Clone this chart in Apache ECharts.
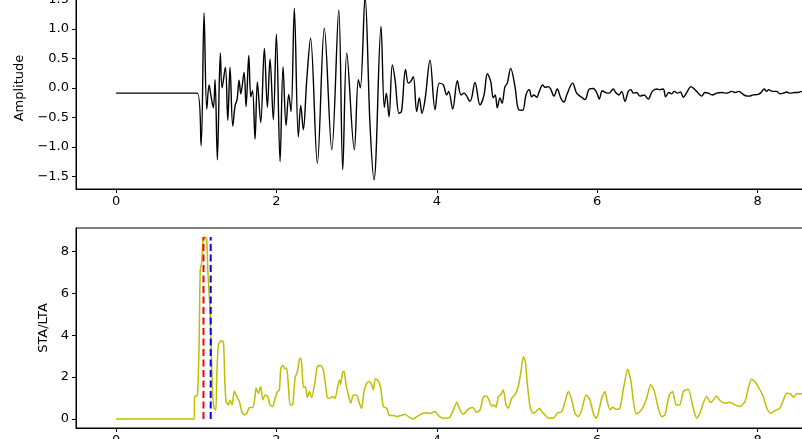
<!DOCTYPE html>
<html><head><meta charset="utf-8">
<script src="https://cdn.jsdelivr.net/npm/echarts@6/dist/echarts.min.js"></script>
<style>html,body{margin:0;padding:0;overflow:hidden;width:802px;height:439px;background:#fff}
#c{position:absolute;left:0;top:-20px;width:1000px;height:480px}</style></head>
<body><div id="c"></div>
<script>
// Waveform (time in s, amplitude)
const waveT = [0,1.014,1.060,1.097,1.131,1.160,1.185,1.213,1.234,1.263,1.300,1.322,1.363,1.393,1.421,1.455,1.484,1.509,1.534,1.555,1.596,1.621,1.655,1.680,1.702,1.733,1.762,1.804,1.849,1.887,1.920,1.961,1.999,2.045,2.082,2.120,2.153,2.182,2.223,2.273,2.303,2.335,2.378,2.425,2.510,2.597,2.690,2.777,2.827,2.877,2.971,3.021,3.046,3.105,3.167,3.217,3.304,3.345,3.370,3.404,3.445,3.479,3.529,3.560,3.610,3.645,3.675,3.707,3.749,3.782,3.815,3.853,3.915,3.978,4.031,4.081,4.123,4.148,4.198,4.256,4.302,4.339,4.414,4.476,4.539,4.589,4.630,4.672,4.704,4.729,4.754,4.788,4.813,4.850,4.879,4.921,4.975,5.021,5.071,5.112,5.153,5.183,5.212,5.246,5.278,5.320,5.349,5.390,5.420,5.461,5.502,5.545,5.586,5.620,5.694,5.744,5.807,5.848,5.902,5.951,5.994,6.026,6.064,6.106,6.147,6.201,6.231,6.272,6.306,6.347,6.388,6.421,6.450,6.492,6.534,6.587,6.637,6.687,6.742,6.783,6.824,6.854,6.895,6.929,6.961,7.004,7.039,7.074,7.116,7.170,7.211,7.261,7.303,7.344,7.385,7.435,7.490,7.552,7.615,7.677,7.722,7.768,7.802,7.843,7.893,7.946,8.009,8.042,8.083,8.113,8.142,8.183,8.238,8.279,8.320,8.363,8.404,8.466,8.507,8.550,8.603];
const waveA = [-0.09,-0.09,-0.98,1.27,-0.36,0.05,-0.15,-0.34,0.14,-1.22,0.59,0.0,0.35,-0.55,0.35,-0.65,-0.30,-0.20,0.13,-0.10,0.26,-0.32,0.55,-0.15,-0.05,-0.87,0.10,-0.59,0.67,-0.33,0.49,-0.54,0.91,-1.25,0.36,-0.64,-0.11,-0.40,1.35,-0.83,-0.30,-0.71,0.14,0.84,-1.28,1.01,-1.05,1.32,-1.39,0.59,-1.05,0.14,0.0,1.55,-0.63,-1.56,1.04,-0.33,-0.09,-0.49,0.39,0.14,-0.43,-0.40,0.31,0.08,0.11,0.19,-0.40,-0.17,-0.43,-0.20,0.47,-0.37,0.08,0.05,-0.12,-0.06,-0.36,0.12,-0.12,-0.09,-0.23,0.09,-0.29,-0.12,0.24,0.11,-0.17,-0.12,-0.34,-0.17,-0.26,0.02,0.08,0.33,0.02,-0.37,-0.38,-0.12,-0.03,-0.15,-0.12,-0.16,-0.06,0.05,0.01,0.02,-0.02,-0.14,-0.02,-0.17,-0.24,-0.12,0.08,-0.09,-0.16,-0.20,-0.02,-0.01,-0.08,-0.19,-0.05,-0.08,-0.09,-0.02,-0.08,-0.12,-0.06,-0.23,-0.06,-0.03,-0.09,-0.08,-0.14,-0.12,-0.19,-0.06,-0.02,-0.03,-0.02,-0.15,-0.08,-0.10,-0.06,-0.09,-0.07,-0.16,-0.08,0.02,-0.02,-0.09,-0.14,-0.08,-0.09,-0.12,-0.09,-0.08,-0.09,-0.06,-0.08,-0.06,-0.09,-0.13,-0.14,-0.12,-0.11,-0.08,-0.02,-0.06,-0.03,-0.06,-0.06,-0.10,-0.09,-0.07,-0.09,-0.08,-0.08,-0.06,-0.08];
// STA/LTA characteristic function
const cftT = [0,0.973,0.981,1.014,1.035,1.049,1.068,1.085,1.110,1.130,1.145,1.172,1.190,1.207,1.222,1.244,1.256,1.276,1.306,1.339,1.356,1.372,1.400,1.421,1.446,1.475,1.505,1.538,1.567,1.596,1.630,1.662,1.704,1.733,1.746,1.774,1.804,1.829,1.858,1.891,1.920,1.953,1.983,2.012,2.037,2.054,2.079,2.107,2.128,2.145,2.170,2.203,2.232,2.261,2.286,2.303,2.319,2.336,2.361,2.386,2.411,2.440,2.481,2.510,2.552,2.585,2.606,2.635,2.668,2.702,2.731,2.760,2.785,2.802,2.827,2.843,2.868,2.897,2.926,2.959,3.001,3.034,3.063,3.092,3.126,3.155,3.188,3.208,3.233,3.271,3.300,3.333,3.375,3.408,3.466,3.500,3.550,3.603,3.645,3.707,3.749,3.799,3.853,3.915,3.978,4.019,4.081,4.156,4.206,4.248,4.289,4.331,4.380,4.448,4.498,4.539,4.580,4.622,4.685,4.713,4.738,4.767,4.797,4.829,4.863,4.891,4.934,4.975,5.016,5.046,5.079,5.104,5.128,5.162,5.196,5.237,5.278,5.308,5.349,5.390,5.453,5.502,5.557,5.599,5.640,5.682,5.723,5.764,5.807,5.860,5.910,5.951,5.985,6.014,6.056,6.097,6.126,6.160,6.193,6.234,6.284,6.325,6.380,6.418,6.450,6.484,6.534,6.575,6.617,6.667,6.708,6.762,6.804,6.845,6.899,6.941,6.983,7.032,7.074,7.136,7.198,7.241,7.282,7.323,7.365,7.415,7.448,7.490,7.531,7.594,7.656,7.718,7.781,7.843,7.884,7.926,7.967,8.030,8.071,8.121,8.163,8.217,8.279,8.320,8.363,8.413,8.445,8.488,8.550,8.603];
const cftV = [0,0,1.07,1.12,3.5,7.1,7.5,8.6,8.7,8.6,7.0,5.2,2.9,1.0,0.51,0.43,2.1,3.54,3.74,3.67,1.79,0.83,0.67,0.91,0.67,1.34,1.07,0.83,0.35,0.19,0.27,0.54,0.54,1.07,1.47,1.23,1.55,0.91,1.15,1.07,0.67,0.59,0.99,1.31,1.39,2.43,2.55,2.40,2.43,1.79,0.67,0.70,1.95,2.27,2.83,2.91,2.43,1.50,1.55,1.02,1.31,1.02,1.79,2.51,2.55,2.35,1.79,1.02,0.99,1.07,0.99,1.47,1.87,1.66,2.27,2.27,1.63,1.15,0.75,1.15,1.15,0.75,0.51,1.31,1.71,1.79,1.63,1.39,1.92,1.82,1.47,0.59,0.51,0.16,0.16,0.11,0.16,0.22,0.11,0.0,0.11,0.22,0.30,0.26,0.35,0.16,0.03,0.06,0.43,0.80,0.43,0.22,0.43,0.54,0.32,0.43,1.04,1.10,0.62,0.67,0.56,1.07,1.15,1.39,0.67,0.51,0.99,1.15,1.55,2.19,2.98,2.75,1.71,0.59,0.27,0.35,0.51,0.35,0.19,0.03,0.03,0.27,0.35,0.83,1.31,0.91,0.27,0.11,0.43,1.15,0.91,0.27,0.03,0.27,0.99,1.31,0.83,0.43,0.56,0.46,0.51,1.39,2.38,1.87,0.91,0.24,0.35,0.59,0.99,1.63,1.39,0.51,0.11,0.19,1.15,1.31,0.67,0.67,1.31,1.42,0.51,0.03,0.27,0.75,1.07,0.78,0.91,1.10,0.88,0.75,0.80,0.67,0.59,0.83,1.47,1.90,1.79,1.39,1.07,0.46,0.27,0.40,0.51,0.88,1.23,1.20,1.04,1.20,1.20,1.15];
const triggerOn = 1.09, triggerOff = 1.18;
const cftMax = 8.7;
const xTicks = [0,2,4,6,8,10];
const ampTicks = [-1.5,-1.0,-0.5,0.0,0.5,1.0,1.5];
const cftTicks = [0,2,4,6,8];

const zip = (a,b) => a.map((v,i)=>[v,b[i]]);
const font = {fontFamily:'DejaVu Sans', fontSize:13, color:'#000'};
const fmtNum = d => v => { let s = v.toFixed(d); return s.replace('-', '\u2212'); };
function xAx(gi){ return {type:'value', gridIndex:gi, min:-0.5, max:10.5,
  axisLine:{show:true,onZero:false,lineStyle:{color:'#000',width:1}},
  axisTick:{show:true,length:4,lineStyle:{color:'#000'},customValues:xTicks},
  axisLabel:Object.assign({margin:6,customValues:xTicks,formatter:v=>String(v)},font),
  splitLine:{show:false}}; }
function yAx(gi,min,max,ticks,d,name,gap){ return {type:'value', gridIndex:gi, min:min, max:max,
  name:name, nameLocation:'middle', nameRotate:90, nameGap:gap, nameTextStyle:font,
  axisLine:{show:true,onZero:false,lineStyle:{color:'#000',width:1}},
  axisTick:{show:true,length:4,lineStyle:{color:'#000'},customValues:ticks},
  axisLabel:Object.assign({margin:7,customValues:ticks,formatter:fmtNum(d)},font),
  splitLine:{show:false}}; }

const chart = echarts.init(document.getElementById('c'), null, {renderer:'canvas'});
chart.setOption({
  animation:false,
  grid:[{left:76, top:7, width:882, height:202, show:true, borderColor:'#000', borderWidth:1},
        {left:76, top:248, width:882, height:200, show:true, borderColor:'#000', borderWidth:1}],
  xAxis:[xAx(0), xAx(1)],
  yAxis:[yAx(0,-1.715,1.71,ampTicks,1,'Amplitude',46), yAx(1,-0.435,9.135,cftTicks,0,'STA/LTA',22)],
  series:[
    {type:'line', xAxisIndex:0, yAxisIndex:0, data:zip(waveT,waveA), showSymbol:false, smooth:0.35,
     lineStyle:{color:'#000', width:1.4}},
    {type:'line', xAxisIndex:1, yAxisIndex:1, data:zip(cftT,cftV), showSymbol:false, smooth:0.2,
     lineStyle:{color:'#bfbf00', width:1.5}},
    {type:'line', xAxisIndex:1, yAxisIndex:1, data:[[triggerOn,0],[triggerOn,cftMax]], showSymbol:false,
     lineStyle:{color:'#ff0000', width:2, type:[7,3.5]}},
    {type:'line', xAxisIndex:1, yAxisIndex:1, data:[[triggerOff,0],[triggerOff,cftMax]], showSymbol:false,
     lineStyle:{color:'#0000ff', width:2, type:[7,3.5]}}
  ]
});
</script></body></html>
